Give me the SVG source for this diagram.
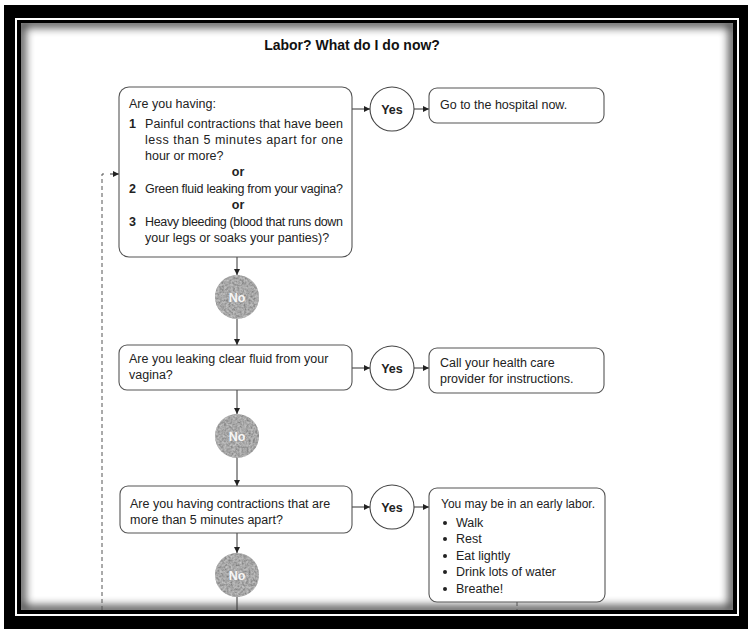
<svg xmlns="http://www.w3.org/2000/svg" width="750" height="633" viewBox="0 0 750 633">
  <defs>
    <style>
      .t { font-family: "Liberation Sans", Arial, sans-serif; font-size: 12.5px; fill: #222; }
      .b { font-weight: bold; }
      .title { font-family: "Liberation Sans", Arial, sans-serif; font-size: 14px; font-weight: bold; fill: #111; }
      .box { fill: #fff; stroke: #555; stroke-width: 1.1; }
      .yes { fill: #fff; stroke: #444; stroke-width: 1.1; }
      .no { fill: #929292; }
      .nolbl { font-family: "Liberation Sans", Arial, sans-serif; font-size: 12.5px; font-weight: bold; fill: #f6f6f6; }
      .wire { stroke: #333; stroke-width: 1; fill: none; }
      .dash { stroke: #555; stroke-width: 1; fill: none; stroke-dasharray: 4 3; }
    </style>
    <marker id="arr" viewBox="0 0 8 8" refX="8" refY="4" markerWidth="6" markerHeight="6" markerUnits="userSpaceOnUse" orient="auto">
      <path d="M0,0 L8,4 L0,8 z" fill="#222"/>
    </marker>
    <!-- soft mottled texture for the "No" discs -->
    <filter id="grain" x="0" y="0" width="1" height="1">
      <feTurbulence type="fractalNoise" baseFrequency="0.45" numOctaves="2" seed="5" result="n"/>
      <feColorMatrix in="n" type="matrix" values="1.3 0 0 0 -0.1  1.3 0 0 0 -0.1  1.3 0 0 0 -0.1  0 0 0 0 0.4" result="g"/>
      <feComposite in="g" in2="SourceGraphic" operator="in" result="gc"/>
      <feMerge><feMergeNode in="SourceGraphic"/><feMergeNode in="gc"/></feMerge>
    </filter>
    <filter id="soft" x="-0.1" y="-0.1" width="1.2" height="1.2">
      <feGaussianBlur stdDeviation="5"/>
    </filter>
    <clipPath id="page">
      <rect x="21" y="23" width="712" height="587"/>
    </clipPath>
  </defs>

  <!-- frame -->
  <rect width="750" height="633" fill="#fff"/>
  <rect x="4" y="5" width="744" height="624" fill="#000"/>
  <rect x="15" y="18" width="724" height="598" fill="#fff"/>
  <rect x="17" y="20" width="720" height="594" fill="#000"/>
  <rect x="21" y="23" width="712" height="587" fill="#fff"/>
  <g clip-path="url(#page)">
    <rect x="21" y="23" width="712" height="587" fill="none" stroke="#000" stroke-width="8" opacity="0.8" filter="url(#soft)"/>
  </g>

  <text class="title" x="352" y="50" text-anchor="middle">Labor? What do I do now?</text>

  <!-- connectors -->
  <g id="connectors">
    <line class="wire" x1="352" y1="109" x2="370" y2="109" marker-end="url(#arr)"/>
    <line class="wire" x1="414" y1="109" x2="429" y2="109" marker-end="url(#arr)"/>
    <line class="wire" x1="237" y1="257" x2="237" y2="275" marker-end="url(#arr)"/>
    <line class="wire" x1="237" y1="319" x2="237" y2="345" marker-end="url(#arr)"/>
    <line class="wire" x1="352" y1="368" x2="370" y2="368" marker-end="url(#arr)"/>
    <line class="wire" x1="414" y1="368" x2="429" y2="368" marker-end="url(#arr)"/>
    <line class="wire" x1="237" y1="390" x2="237" y2="414" marker-end="url(#arr)"/>
    <line class="wire" x1="237" y1="458" x2="237" y2="486" marker-end="url(#arr)"/>
    <line class="wire" x1="352" y1="507" x2="370" y2="507" marker-end="url(#arr)"/>
    <line class="wire" x1="414" y1="507" x2="429" y2="507" marker-end="url(#arr)"/>
    <line class="wire" x1="237" y1="533" x2="237" y2="553" marker-end="url(#arr)"/>
    <line class="wire" x1="237" y1="597" x2="237" y2="610"/>
    <line class="dash" x1="517" y1="602" x2="517" y2="610"/>
    <path class="dash" d="M102,610 L102,174 L106,174"/>
    <line class="wire" x1="110" y1="174" x2="119" y2="174" marker-end="url(#arr)"/>
  </g>

  <!-- question 1 -->
  <g id="q1">
    <rect class="box" x="119" y="87" width="233" height="170" rx="10"/>
    <text class="t" x="129" y="108">Are you having:</text>
    <text class="t b" x="129" y="128">1</text>
    <text class="t" x="145" y="128" textLength="198" lengthAdjust="spacing">Painful contractions that have been</text>
    <text class="t" x="145" y="144" textLength="198" lengthAdjust="spacing">less than 5 minutes apart for one</text>
    <text class="t" x="145" y="160">hour or more?</text>
    <text class="t b" x="238" y="176" text-anchor="middle">or</text>
    <text class="t b" x="129" y="193">2</text>
    <text class="t" x="145" y="193" textLength="198" lengthAdjust="spacing">Green fluid leaking from your vagina?</text>
    <text class="t b" x="238" y="209" text-anchor="middle">or</text>
    <text class="t b" x="129" y="226">3</text>
    <text class="t" x="145" y="226" textLength="198" lengthAdjust="spacing">Heavy bleeding (blood that runs down</text>
    <text class="t" x="145" y="242">your legs or soaks your panties)?</text>
  </g>

  <g id="yes1">
    <circle class="yes" cx="392" cy="109" r="22"/>
    <text class="t b" x="392" y="113.5" text-anchor="middle">Yes</text>
  </g>

  <g id="hospital">
    <rect class="box" x="429" y="88" width="175" height="35" rx="8"/>
    <text class="t" x="440" y="109">Go to the hospital now.</text>
  </g>

  <g id="no1">
    <circle class="no" cx="237" cy="297" r="22" filter="url(#grain)"/>
    <text class="nolbl" x="237" y="301.5" text-anchor="middle">No</text>
  </g>

  <!-- question 2 -->
  <g id="q2">
    <rect class="box" x="119" y="345" width="233" height="45" rx="8"/>
    <text class="t" x="129" y="363">Are you leaking clear fluid from your</text>
    <text class="t" x="129" y="379">vagina?</text>
  </g>

  <g id="yes2">
    <circle class="yes" cx="392" cy="368" r="22"/>
    <text class="t b" x="392" y="372.5" text-anchor="middle">Yes</text>
  </g>

  <g id="call">
    <rect class="box" x="429" y="348" width="175" height="45" rx="8"/>
    <text class="t" x="440" y="367">Call your health care</text>
    <text class="t" x="440" y="383">provider for instructions.</text>
  </g>

  <g id="no2">
    <circle class="no" cx="237" cy="436" r="22" filter="url(#grain)"/>
    <text class="nolbl" x="237" y="440.5" text-anchor="middle">No</text>
  </g>

  <!-- question 3 -->
  <g id="q3">
    <rect class="box" x="120" y="486" width="232" height="47" rx="8"/>
    <text class="t" x="130" y="508">Are you having contractions that are</text>
    <text class="t" x="130" y="524">more than 5 minutes apart?</text>
  </g>

  <g id="yes3">
    <circle class="yes" cx="392" cy="507" r="22"/>
    <text class="t b" x="392" y="511.5" text-anchor="middle">Yes</text>
  </g>

  <g id="early">
    <rect class="box" x="429" y="488" width="176" height="114" rx="8"/>
    <text class="t" x="441" y="508" textLength="154" lengthAdjust="spacingAndGlyphs">You may be in an early labor.</text>
    <circle cx="445" cy="523" r="2" fill="#222"/>
    <text class="t" x="456" y="527">Walk</text>
    <circle cx="445" cy="539" r="2" fill="#222"/>
    <text class="t" x="456" y="543">Rest</text>
    <circle cx="445" cy="556" r="2" fill="#222"/>
    <text class="t" x="456" y="560">Eat lightly</text>
    <circle cx="445" cy="572" r="2" fill="#222"/>
    <text class="t" x="456" y="576">Drink lots of water</text>
    <circle cx="445" cy="589" r="2" fill="#222"/>
    <text class="t" x="456" y="593">Breathe!</text>
  </g>

  <g id="no3">
    <circle class="no" cx="237" cy="575" r="22" filter="url(#grain)"/>
    <text class="nolbl" x="237" y="579.5" text-anchor="middle">No</text>
  </g>
</svg>
